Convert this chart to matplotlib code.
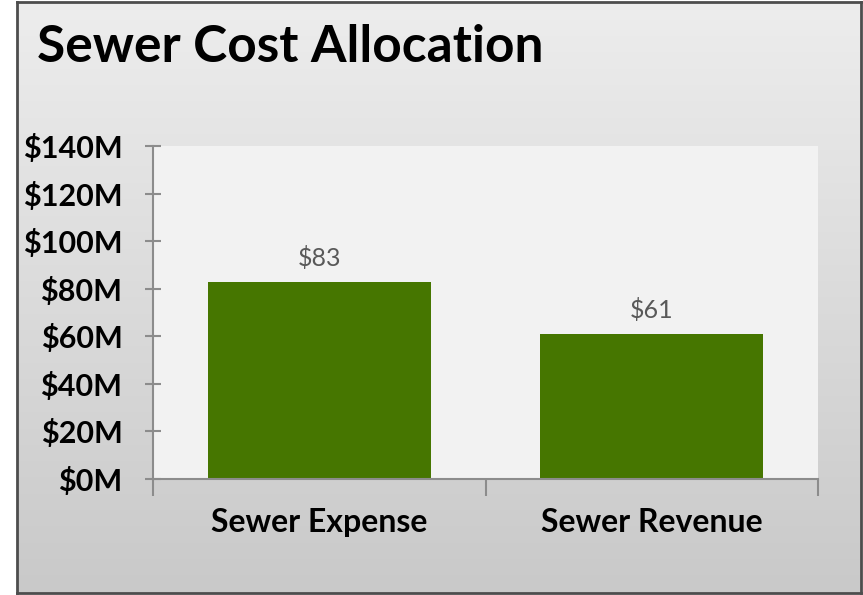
import numpy as np
import matplotlib.pyplot as plt
from matplotlib.colors import LinearSegmentedColormap
from matplotlib.ticker import FuncFormatter

# Data (millions of dollars)
categories = ["Sewer Expense", "Sewer Revenue"]
values = [83, 61]
y_ticks = [0, 20, 40, 60, 80, 100, 120, 140]

font = "Lato"
bar_color = "#467600"
axis_color = "#8c8c8c"

fig = plt.figure(figsize=(8.63, 5.95), dpi=100)
fig.patch.set_facecolor("white")

# Gradient background panel with dark border
bg = fig.add_axes([17 / 863, 2 / 595, 844 / 863, 591 / 595], zorder=0)
grad = np.linspace(0, 1, 256).reshape(-1, 1)
bg.imshow(grad, aspect="auto", cmap=LinearSegmentedColormap.from_list("g", ["#ededed", "#c9c9c9"]),
          extent=[0, 1, 0, 1], origin="upper")
bg.set_xticks([])
bg.set_yticks([])
for s in bg.spines.values():
    s.set_color("#4d4d4d")
    s.set_linewidth(2)

ax = fig.add_axes([153 / 863, 1 - 479 / 595, 665 / 863, 333 / 595], zorder=1)
ax.set_facecolor("#f2f2f2")

x = np.arange(len(categories))
bars = ax.bar(x, values, width=0.67, color=bar_color, zorder=2)

for b, v in zip(bars, values):
    ax.text(b.get_x() + b.get_width() / 2, v + 5, f"${v}", ha="center", va="bottom",
            fontsize=18, color="#595959", family=font)

ax.set_xlim(-0.5, 1.5)
ax.set_ylim(0, 140)
ax.set_yticks(y_ticks)
ax.yaxis.set_major_formatter(FuncFormatter(lambda v, p: f"${int(v)}M"))
ax.set_xticks([-0.5, 0.5, 1.5])
ax.set_xticklabels([])
ax.set_xticks(x, minor=True)
ax.set_xticklabels(categories, minor=True)

ax.tick_params(axis="y", which="major", direction="inout", length=12, width=1.5,
               color=axis_color, labelsize=22, pad=16)
ax.tick_params(axis="x", which="major", direction="out", length=12, width=1.5, color=axis_color)
ax.tick_params(axis="x", which="minor", length=0, labelsize=23, pad=21)
for lab in ax.get_yticklabels() + ax.get_xticklabels(minor=True):
    lab.set_fontweight("bold")
    lab.set_family(font)

for side in ["top", "right"]:
    ax.spines[side].set_visible(False)
for side in ["left", "bottom"]:
    ax.spines[side].set_color(axis_color)
    ax.spines[side].set_linewidth(1.5)

fig.text(37 / 863, 1 - 62 / 595, "Sewer Cost Allocation", fontsize=37, fontweight="bold",
         family=font, ha="left", va="baseline", zorder=3)

fig.savefig("out.png", dpi=100)
